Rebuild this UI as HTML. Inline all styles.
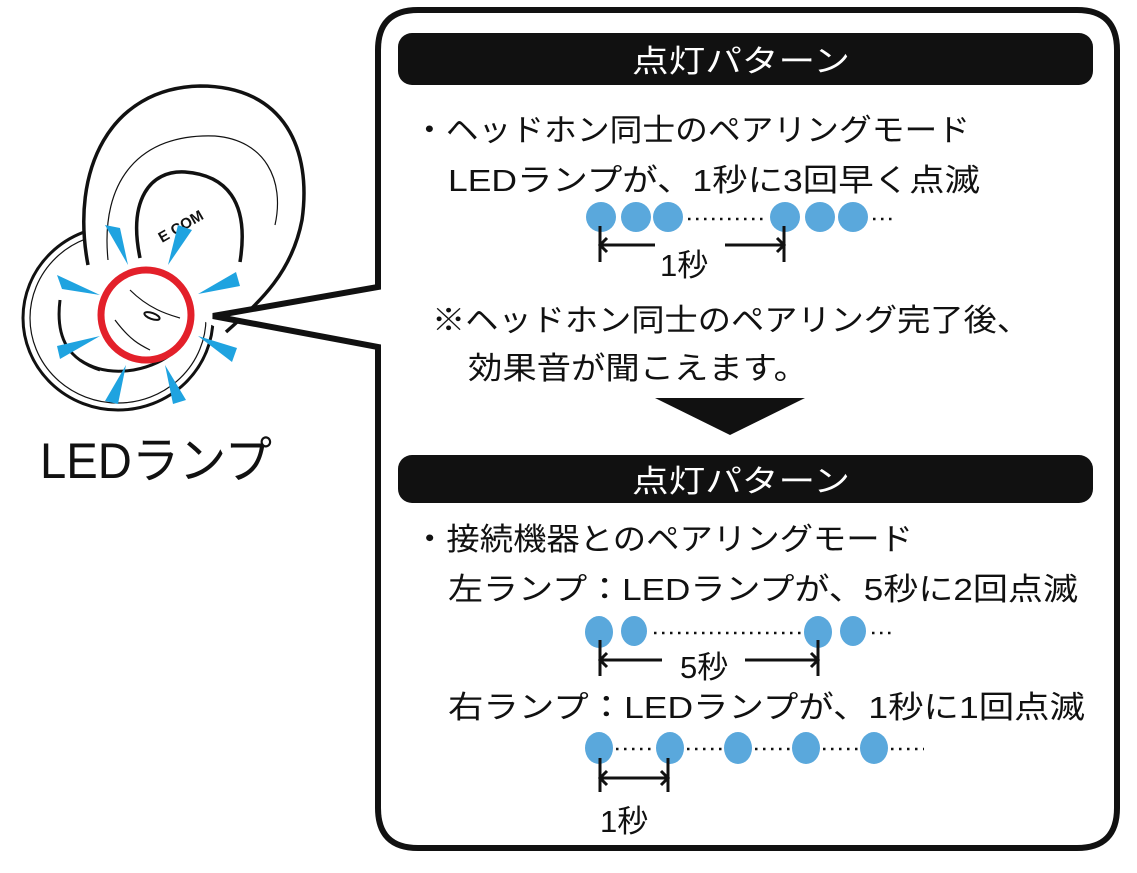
<!DOCTYPE html>
<html><head><meta charset="utf-8"><style>
html,body{margin:0;padding:0;background:#fff;width:1137px;height:873px;overflow:hidden}
text{font-family:"Liberation Sans","Noto Sans CJK JP",sans-serif;fill:#111}
</style></head><body>
<svg width="1137" height="873" viewBox="0 0 1137 873" xmlns="http://www.w3.org/2000/svg">
<!-- earbud -->
<g fill="none" stroke="#111">
<ellipse cx="118" cy="318" rx="95" ry="92" stroke-width="3"/>
<ellipse cx="118" cy="318" rx="88" ry="85" stroke-width="1.2"/>
<path d="M88,265 C70,170 110,88 200,86 C285,86 312,150 302,220 C292,272 262,300 226,332" stroke-width="3.5" fill="#fff"/>
<path d="M108,260 C100,180 140,133 215,136 C265,140 285,180 275,225" stroke-width="1.2"/>
<path d="M140,258 C128,200 150,170 185,172 C225,175 250,200 240,262" stroke-width="3.5"/>
<path d="M60,300 C55,340 70,360 100,370 M80,360 C110,380 150,370 170,355" stroke-width="3"/>
<path d="M130,290 C150,310 170,315 180,318 M115,320 C130,340 140,345 150,350" stroke-width="1.2"/>
<ellipse cx="152" cy="316" rx="8" ry="3" transform="rotate(20 152 316)" stroke-width="2"/>
</g>
<text x="162" y="243" font-size="15" transform="rotate(-30 162 243)" font-weight="bold">E  COM</text>
<g fill="#1fa3e0">
<polygon points="105,225 120,228 128,265"/>
<polygon points="178,225 192,230 168,265"/>
<polygon points="57,275 62,289 100,295"/>
<polygon points="236,272 240,286 198,294"/>
<polygon points="57,346 60,359 100,336"/>
<polygon points="237,348 232,362 198,336"/>
<polygon points="105,401 118,404 126,365"/>
<polygon points="173,404 186,400 165,365"/>
</g>
<circle cx="146" cy="315" r="45" fill="none" stroke="#e3202a" stroke-width="7"/>
<text x="40" y="478" font-size="50" textLength="232" lengthAdjust="spacingAndGlyphs">LEDランプ</text>
<!-- callout box -->
<path d="M378,287 L378,50 Q378,10 418,10 L1077,10 Q1117,10 1117,50 L1117,808 Q1117,848 1077,848 L418,848 Q378,848 378,808 L378,347 L213,316 Z" fill="#fff" stroke="#111" stroke-width="6" stroke-linejoin="miter"/>
<rect x="398" y="33" width="695" height="52" rx="14" fill="#111"/>
<text x="632" y="72" font-size="31" style="fill:#fff" textLength="218" lengthAdjust="spacingAndGlyphs">点灯パターン</text>
<rect x="398" y="455" width="695" height="48" rx="14" fill="#111"/>
<text x="632" y="492" font-size="31" style="fill:#fff" textLength="218" lengthAdjust="spacingAndGlyphs">点灯パターン</text>
<g font-size="31">
<text x="413" y="141" textLength="557" lengthAdjust="spacingAndGlyphs">・ヘッドホン同士のペアリングモード</text>
<text x="448" y="191" textLength="532" lengthAdjust="spacingAndGlyphs">LEDランプが、1秒に3回早く点滅</text>
<text x="432" y="331" textLength="598" lengthAdjust="spacingAndGlyphs">※ヘッドホン同士のペアリング完了後、</text>
<text x="468" y="379" textLength="340" lengthAdjust="spacingAndGlyphs">効果音が聞こえます。</text>
<text x="413" y="550" textLength="500" lengthAdjust="spacingAndGlyphs">・接続機器とのペアリングモード</text>
<text x="448" y="600" textLength="630" lengthAdjust="spacingAndGlyphs">左ランプ：LEDランプが、5秒に2回点滅</text>
<text x="448" y="718" textLength="637" lengthAdjust="spacingAndGlyphs">右ランプ：LEDランプが、1秒に1回点滅</text>
<text x="660" y="276">1秒</text>
<text x="680" y="678">5秒</text>
<text x="600" y="832">1秒</text>
</g>
<polygon points="655,398 805,398 730,435" fill="#111"/>
<g fill="#5aa8dc">
<circle cx="601" cy="217" r="15"/><circle cx="636" cy="217" r="15"/><circle cx="668" cy="217" r="15"/>
<circle cx="785" cy="217" r="15"/><circle cx="820" cy="217" r="15"/><circle cx="853" cy="217" r="15"/>
<ellipse cx="599" cy="632" rx="14" ry="16"/><ellipse cx="634" cy="631" rx="13" ry="15"/>
<ellipse cx="818" cy="632" rx="14" ry="16"/><ellipse cx="853" cy="631" rx="13" ry="15"/>
<ellipse cx="599" cy="748" rx="14" ry="16"/><ellipse cx="670" cy="748" rx="14" ry="16"/>
<ellipse cx="738" cy="748" rx="14" ry="16"/><ellipse cx="806" cy="748" rx="14" ry="16"/>
<ellipse cx="874" cy="748" rx="14" ry="16"/>
</g>
<g stroke="#111" stroke-width="2.5" stroke-dasharray="2.5 5.5" fill="none">
<line x1="688" y1="219" x2="768" y2="219"/><line x1="873" y1="219" x2="895" y2="219"/>
<line x1="654" y1="633" x2="801" y2="633"/><line x1="872" y1="633" x2="895" y2="633"/>
<line x1="616" y1="749" x2="654" y2="749"/><line x1="687" y1="749" x2="722" y2="749"/>
<line x1="755" y1="749" x2="790" y2="749"/><line x1="823" y1="749" x2="858" y2="749"/>
<line x1="891" y1="749" x2="924" y2="749"/>
</g>
<g stroke="#111" stroke-width="3" fill="none">
<path d="M600,226V262M784,226V262M600,245H655M725,245H784M607,238L600,245L607,252M777,238L784,245L777,252"/>
<path d="M600,640V676M818,640V676M600,660H662M745,660H818M607,653L600,660L607,667M811,653L818,660L811,667"/>
<path d="M600,758V792M668,758V792M600,778H668M607,771L600,778L607,785M661,771L668,778L661,785"/>
</g>
</svg>
</body></html>
